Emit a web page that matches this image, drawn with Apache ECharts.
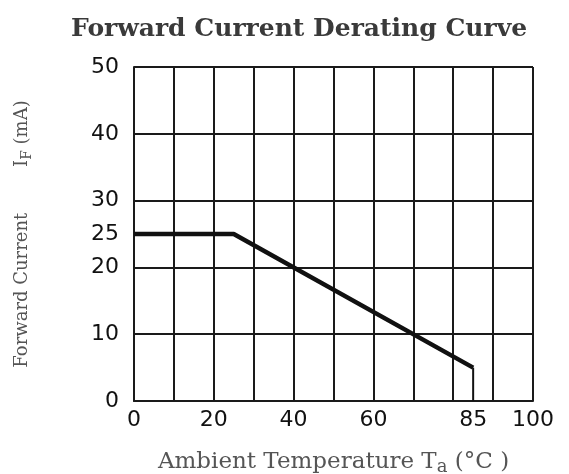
<!DOCTYPE html>
<html>
<head>
<meta charset="utf-8">
<script src="https://cdn.jsdelivr.net/npm/echarts@6/dist/echarts.min.js"></script>
<style>html,body{margin:0;padding:0;background:#fff}#c{width:569px;height:474px}</style>
</head>
<body>
<div id="c"></div>
<script>
var xTickLabels = [0, 20, 40, 60, 85, 100];
var yTickLabels = [0, 10, 20, 25, 30, 40, 50];
var curveX = [0, 25, 85];
var curveY = [25, 25, 5];
var dropX = [85, 85];
var dropY = [5, 0];

var chart = echarts.init(document.getElementById('c'));
var ink = '#1a1a1a';
chart.setOption({
  animation: false,
  backgroundColor: '#ffffff',
  title: {
    text: 'Forward Current Derating Curve',
    left: 66, top: 12,
    textStyle: { fontFamily: 'DejaVu Serif', fontSize: 25, fontWeight: 'bold', color: '#3a3a3a' }
  },
  grid: { left: 134, right: 36, top: 67, bottom: 73, containLabel: false, outerBoundsMode: 'none' },
  xAxis: {
    type: 'value', min: 0, max: 100, interval: 10,
    axisLine: { show: true, lineStyle: { color: ink, width: 2 } },
    axisTick: { show: false },
    splitLine: { show: true, lineStyle: { color: ink, width: 2 } },
    axisLabel: {
      customValues: xTickLabels, margin: 8,
      fontFamily: 'DejaVu Sans', fontSize: 22, color: '#111'
    },
    name: '{n|Ambient Temperature T}{s|a}{n| (°C )}',
    nameLocation: 'middle', nameGap: 47,
    nameTextStyle: {
      rich: {
        n: { fontFamily: 'DejaVu Serif', fontSize: 23, color: '#555' },
        s: { fontFamily: 'DejaVu Serif', fontSize: 18, color: '#555', padding: [10, 0, 0, 0] }
      }
    }
  },
  yAxis: {
    type: 'value', min: 0, max: 50, interval: 10,
    axisLine: { show: true, lineStyle: { color: ink, width: 2 } },
    axisTick: { show: false },
    splitLine: { show: true, lineStyle: { color: ink, width: 2 } },
    axisLabel: {
      customValues: yTickLabels, margin: 15,
      fontFamily: 'DejaVu Sans', fontSize: 22, color: '#111'
    },
    name: '{n|Forward Current        I}{s|F}{n| (mA)}',
    nameLocation: 'middle', nameRotate: 90, nameGap: 100,
    nameTextStyle: {
      rich: {
        n: { fontFamily: 'DejaVu Serif', fontSize: 18, color: '#555' },
        s: { fontFamily: 'DejaVu Serif', fontSize: 14, color: '#555', padding: [9, 0, 0, 0] }
      }
    }
  },
  series: [
    {
      type: 'line', symbol: 'none',
      data: curveX.map(function (x, i) { return [x, curveY[i]]; }),
      lineStyle: { color: '#111', width: 4.5 }
    },
    {
      type: 'line', symbol: 'none',
      data: dropX.map(function (x, i) { return [x, dropY[i]]; }),
      lineStyle: { color: '#111', width: 2 }
    }
  ]
});
</script>
</body>
</html>
